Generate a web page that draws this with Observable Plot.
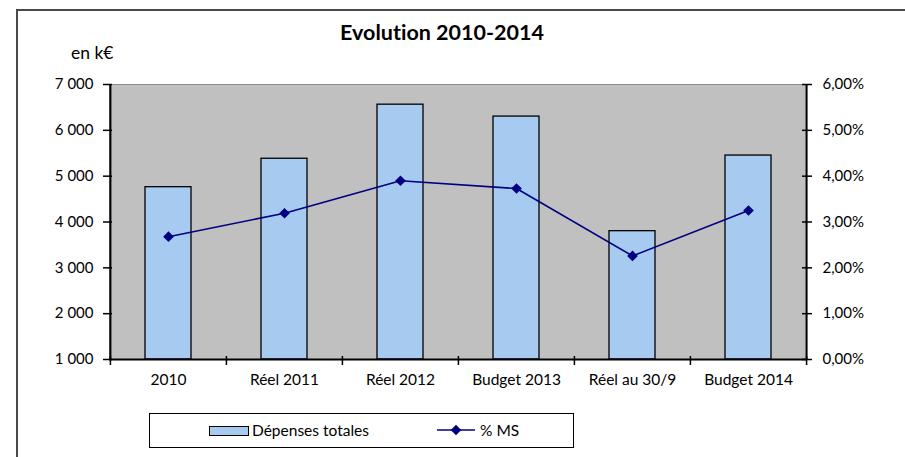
<!DOCTYPE html>
<html>
<head>
<meta charset="utf-8">
<script src="https://cdn.jsdelivr.net/npm/d3@7"></script>
<script src="https://cdn.jsdelivr.net/npm/@observablehq/plot@0.6"></script>
<style>
  html, body { margin: 0; padding: 0; background: #fff; overflow: hidden; }
  #wrap { position: relative; width: 905px; height: 457px; font-family: Lato, sans-serif; color: #000; font-variant-ligatures: none; font-feature-settings: "liga" 0; }
  #wrap svg.plotsvg { position: absolute; left: 0; top: 0; }
  #frame { position: absolute; left: 16px; top: 9px; width: 1000px; height: 1000px; border: 2px solid #4a4a4a; box-sizing: border-box; pointer-events: none; }
  #title { position: absolute; left: 0; width: 884px; top: 22px; text-align: center; font-weight: 700; font-size: 21.5px; line-height: 1; white-space: nowrap; }
  #unit { position: absolute; left: 71px; top: 44px; font-size: 17.5px; line-height: 1; white-space: nowrap; }
  #legend { position: absolute; left: 149px; top: 413px; width: 425px; height: 35px; border: 1.5px solid #000; box-sizing: border-box; background: #fff; }
  #legend .sw { position: absolute; left: 59px; top: 11.5px; width: 40px; height: 10px; background: #a6caf0; border: 1.5px solid #000; box-sizing: border-box; }
  #legend .txt { position: absolute; top: 8.5px; font-size: 15.5px; line-height: 1; white-space: nowrap; }
  #legend svg { position: absolute; left: 286px; top: 9.5px; }
  svg.plotsvg text { font-variant-ligatures: none; }
</style>
</head>
<body>
<div id="wrap">
  <div id="title">Evolution 2010-2014</div>
  <div id="unit">en k€</div>
  <div id="legend">
    <span class="sw"></span>
    <span class="txt" style="left:102px">Dépenses totales</span>
    <svg width="40" height="12" viewBox="0 0 40 12">
      <line x1="1" y1="6" x2="39" y2="6" stroke="#000080" stroke-width="1.6"></line>
      <polygon points="20,0.7 25.3,6 20,11.3 14.7,6" fill="#000080"></polygon>
    </svg>
    <span class="txt" style="left:330px">% MS</span>
  </div>
  <div id="frame"></div>
</div>
<script>
// ---- data ----
const categories = ["2010", "Réel 2011", "Réel 2012", "Budget 2013", "Réel au 30/9", "Budget 2014"];
const depenses = [4760, 5380, 6560, 6300, 3800, 5450];     // en k€
const pctMS = [2.68, 3.19, 3.90, 3.73, 2.26, 3.25];        // en %
const yTicks = [1000, 2000, 3000, 4000, 5000, 6000, 7000];

// ---- layout ----
const W = 905, H = 457, mL = 109, mR = 99, mT = 84, mB = 98;
const step = (W - mL - mR) / categories.length;
const rows = categories.map((c, i) => ({cat: c, dep: depenses[i], pct: pctMS[i]}));
// secondary axis: 0% -> 1000, 6% -> 7000
const toY = p => 1000 + p * 1000;
const fmtK = d => String(d).replace(/\B(?=(\d{3})+(?!\d))/g, "\u00a0");
const fmtPct = d => ((d - 1000) / 1000).toFixed(2).replace(".", ",") + "%";
const none = () => "";

const chart = Plot.plot({
  width: W, height: H,
  marginLeft: mL, marginRight: mR, marginTop: mT, marginBottom: mB,
  style: {fontFamily: "Lato, sans-serif", fontSize: "15.5px", background: "transparent", color: "#000", overflow: "visible"},
  x: {type: "band", domain: categories, padding: 0, label: null},
  y: {domain: [1000, 7000], label: null},
  marks: [
    Plot.frame({fill: "#c0c0c0", stroke: "#8c8c8c"}),
    Plot.barY(rows, {x: "cat", y1: 1000, y2: "dep", fill: "#a6caf0", stroke: "#000", strokeWidth: 1.3, insetLeft: 35, insetRight: 35}),
    Plot.ruleY([1000], {stroke: "#000", strokeWidth: 2}),
    Plot.ruleX([categories[0]], {dx: -step / 2, stroke: "#000", strokeWidth: 2}),
    Plot.ruleX([categories[categories.length - 1]], {dx: step / 2, stroke: "#000", strokeWidth: 2}),
    // left axis
    Plot.axisY(yTicks, {anchor: "left", tickSize: 9, dx: 3, strokeWidth: 1.5, tickFormat: none, label: null}),
    Plot.axisY(yTicks, {anchor: "left", tickSize: 0, tickPadding: 16, tickFormat: fmtK, fontSize: 15, label: null}),
    // right axis (percent)
    Plot.axisY(yTicks, {anchor: "right", tickSize: 10, dx: -5, strokeWidth: 1.5, tickFormat: none, label: null}),
    Plot.axisY(yTicks, {anchor: "right", tickSize: 0, tickPadding: 16, tickFormat: fmtPct, fontSize: 15, label: null}),
    // x axis: ticks at band boundaries
    Plot.axisX(categories, {anchor: "bottom", tickSize: 9, dx: -step / 2, dy: -3, strokeWidth: 1.5, tickFormat: none, label: null}),
    Plot.axisX([categories[categories.length - 1]], {anchor: "bottom", tickSize: 9, dx: step / 2, dy: -3, strokeWidth: 1.5, tickFormat: none, label: null}),
    Plot.axisX(categories, {anchor: "bottom", tickSize: 0, tickPadding: 14, fontSize: 15.5, label: null}),
    // % MS line
    Plot.line(rows, {x: "cat", y: d => toY(d.pct), stroke: "#000080", strokeWidth: 1.6}),
    Plot.dot(rows, {x: "cat", y: d => toY(d.pct), symbol: "diamond2", r: 4.8, fill: "#000080"})
  ]
});
chart.classList.add("plotsvg");
document.getElementById("wrap").prepend(chart);
</script>
</body>
</html>
